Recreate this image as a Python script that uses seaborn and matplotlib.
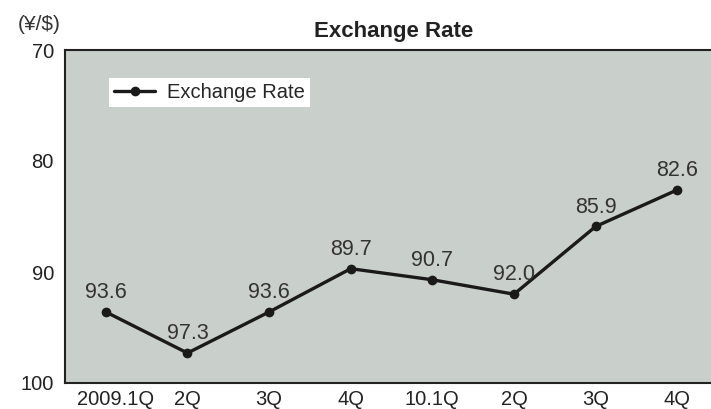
import matplotlib
matplotlib.use("Agg")
import matplotlib.pyplot as plt
import matplotlib.transforms as mtransforms
import seaborn as sns
import pandas as pd

quarters = ["2009.1Q", "2Q", "3Q", "4Q", "10.1Q", "2Q", "3Q", "4Q"]
rates = [93.6, 97.3, 93.6, 89.7, 90.7, 92.0, 85.9, 82.6]
y_ticks = [70, 80, 90, 100]

df = pd.DataFrame({"pos": range(len(quarters)), "rate": rates})

sns.set_theme(style="white")
plt.rcParams["font.family"] = ["Liberation Sans", "DejaVu Sans"]

fig = plt.figure(figsize=(7.11, 4.09), dpi=100)
ax = fig.add_axes([65 / 711, 1 - 383 / 409, (711 - 65) / 711 + 0.01, (383 - 50) / 409])
ax.set_facecolor("#c9cfcb")

sns.lineplot(data=df, x="pos", y="rate", ax=ax, color="#1a1a1a", linewidth=2.4,
             marker="o", markersize=7, markeredgewidth=0, label="Exchange Rate")

for x, v in zip(df["pos"], df["rate"]):
    ax.annotate(f"{v:.1f}", xy=(x, v), xytext=(0, 14), textcoords="offset points",
                ha="center", va="center", fontsize=15.5, color="#333333")

ax.set_xlim(-0.5, 7.5)
ax.set_ylim(100, 70)
ax.set_yticks(y_ticks)
ax.set_xticks(df["pos"])
ax.set_xticklabels(quarters)
ax.tick_params(axis="both", labelsize=14.5, colors="#222222", length=0)
ax.tick_params(axis="y", pad=8)
ax.tick_params(axis="x", pad=5)
# first label sits a little right of its point in the original
lbl0 = ax.get_xticklabels()[0]
lbl0.set_transform(lbl0.get_transform() + mtransforms.ScaledTranslation(10 / 100, 0, fig.dpi_scale_trans))
ax.set_xlabel("")
ax.set_ylabel("")
for side in ["left", "bottom", "top"]:
    ax.spines[side].set_color("#222222")
    ax.spines[side].set_linewidth(1.5)
ax.spines["right"].set_visible(False)

leg = ax.legend(loc="upper left", bbox_to_anchor=(0.068, 0.915), frameon=True, fancybox=False,
                fontsize=14.5, handlelength=2.0, handletextpad=0.6, borderpad=0.25,
                borderaxespad=0, framealpha=1)
leg.get_frame().set_edgecolor("white")
leg.get_frame().set_linewidth(0)

fig.text(394 / 711, 1 - 31 / 409, "Exchange Rate", ha="center", va="center",
         fontsize=16, fontweight="bold", color="#222222")
fig.text(39 / 711, 1 - 25 / 409, "(¥/$)", ha="center", va="center",
         fontsize=15, color="#333333")

fig.savefig("out.png", dpi=100)
